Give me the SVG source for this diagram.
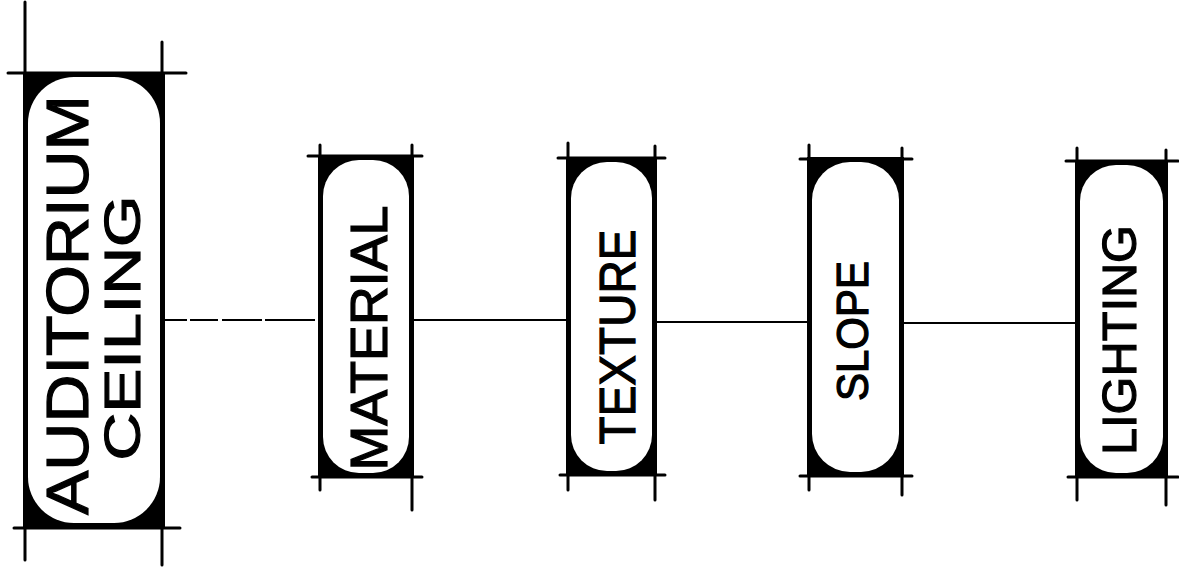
<svg xmlns="http://www.w3.org/2000/svg" width="1179" height="578" viewBox="0 0 1179 578">
<style>
.frame{fill:#000}
.inner{fill:#fff}
.ext{stroke:#000;stroke-width:3;stroke-linecap:round;fill:none}
.conn{stroke:#000;stroke-width:2;fill:none}
.lbl{font-family:"Liberation Sans",Arial,sans-serif;fill:#000;stroke:#000;stroke-width:1.2;text-anchor:middle}
</style>
<rect width="1179" height="578" fill="#fff"/>
<g id="connectors">
<line class="conn" x1="165" y1="320" x2="318" y2="320" stroke-dasharray="22 3 28 4 40 3 50"/>
<line class="conn" x1="414" y1="320" x2="566" y2="320"/>
<line class="conn" x1="657" y1="322" x2="807" y2="322"/>
<line class="conn" x1="904" y1="323" x2="1075" y2="323"/>
</g>
<g id="node-auditorium-ceiling">
<rect class="frame" x="23" y="72" width="142" height="456"/>
<rect class="inner" x="28" y="77" width="132" height="446" rx="46"/>
<line class="ext" x1="25" y1="2" x2="25" y2="560"/>
<line class="ext" x1="162" y1="42" x2="162" y2="565"/>
<line class="ext" x1="8" y1="73" x2="186" y2="73"/>
<line class="ext" x1="14" y1="528" x2="180" y2="528"/>
<text class="lbl" x="67" y="305" dy="21" font-size="60" textLength="420" lengthAdjust="spacingAndGlyphs" transform="rotate(-90 67 305)">AUDITORIUM</text>
<text class="lbl" x="125" y="328" dy="15" font-size="50" textLength="265" lengthAdjust="spacingAndGlyphs" transform="rotate(-90 125 328)">CEILING</text>
</g>
<g id="node-material">
<rect class="frame" x="318" y="155" width="96" height="323"/>
<rect class="inner" x="323" y="160" width="86" height="313" rx="36"/>
<line class="ext" x1="320" y1="145" x2="320" y2="490"/>
<line class="ext" x1="412" y1="145" x2="412" y2="510"/>
<line class="ext" x1="308" y1="156" x2="422" y2="156"/>
<line class="ext" x1="312" y1="477" x2="422" y2="477"/>
<text class="lbl" x="372" y="338" dy="15" font-size="52" textLength="265" lengthAdjust="spacingAndGlyphs" transform="rotate(-90 372 338)">MATERIAL</text>
</g>
<g id="node-texture">
<rect class="frame" x="566" y="157" width="91" height="319"/>
<rect class="inner" x="571" y="162" width="81" height="309" rx="36"/>
<line class="ext" x1="568" y1="143" x2="568" y2="490"/>
<line class="ext" x1="655" y1="146" x2="655" y2="500"/>
<line class="ext" x1="558" y1="158" x2="665" y2="158"/>
<line class="ext" x1="560" y1="475" x2="665" y2="475"/>
<text class="lbl" x="620" y="337" dy="15" font-size="50" textLength="215" lengthAdjust="spacingAndGlyphs" transform="rotate(-90 620 337)">TEXTURE</text>
</g>
<g id="node-slope">
<rect class="frame" x="807" y="157" width="97" height="320"/>
<rect class="inner" x="812" y="162" width="87" height="310" rx="38"/>
<line class="ext" x1="809" y1="145" x2="809" y2="490"/>
<line class="ext" x1="902" y1="148" x2="902" y2="495"/>
<line class="ext" x1="800" y1="159" x2="912" y2="159"/>
<line class="ext" x1="800" y1="476" x2="912" y2="476"/>
<text class="lbl" x="855" y="331" dy="13" font-size="44" textLength="140" lengthAdjust="spacingAndGlyphs" transform="rotate(-90 855 331)">SLOPE</text>
</g>
<g id="node-lighting">
<rect class="frame" x="1075" y="160" width="93" height="318"/>
<rect class="inner" x="1080" y="165" width="83" height="308" rx="36"/>
<line class="ext" x1="1077" y1="148" x2="1077" y2="500"/>
<line class="ext" x1="1166" y1="150" x2="1166" y2="505"/>
<line class="ext" x1="1066" y1="161" x2="1178" y2="161"/>
<line class="ext" x1="1068" y1="477" x2="1178" y2="477"/>
<text class="lbl" x="1122" y="340" dy="14" font-size="48" textLength="230" lengthAdjust="spacingAndGlyphs" transform="rotate(-90 1122 340)">LIGHTING</text>
</g>
</svg>
